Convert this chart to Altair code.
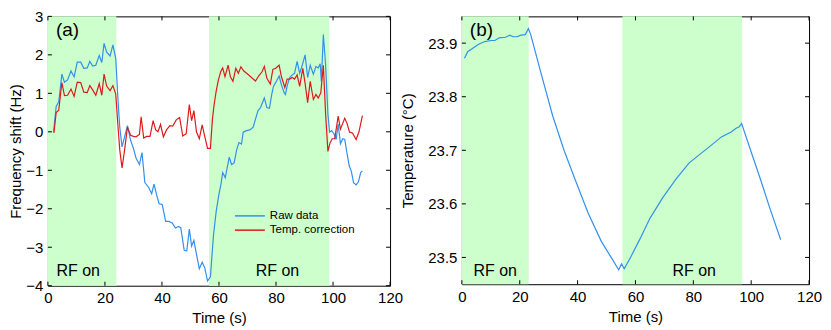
import altair as alt
import pandas as pd

FONT = "Liberation Sans"

# ---------------- data: panel (a) ----------------
t_raw = [2.0, 2.9, 3.8, 4.9, 5.8, 6.9, 8.1, 9.2, 10.3, 11.5, 12.6, 13.8, 14.7, 15.7, 16.8, 18.0,
         18.9, 19.7, 20.6, 21.8, 22.8, 23.8, 24.6, 25.2, 26.0, 26.9, 27.9, 29.0, 30.0, 30.9, 32.1,
         33.0, 34.0, 35.3, 36.4, 37.2, 38.2, 39.0, 40.1, 41.3, 42.4, 43.6, 44.7, 45.8, 46.6, 47.8,
         48.7, 49.6, 50.4, 51.2, 52.1, 53.1, 54.1, 55.0, 56.0, 57.0, 57.5, 58.1, 59.0, 59.9, 60.7,
         61.3, 62.2, 63.0, 63.6, 64.4, 65.3, 66.2, 67.0, 67.9, 68.5, 69.7, 70.8, 72.0, 72.8, 73.7,
         74.6, 75.9, 76.8, 77.7, 78.5, 79.1, 80.2, 81.1, 81.9, 82.9, 83.3, 84.0, 84.8, 85.7, 86.5,
         87.4, 88.3, 89.2, 90.2, 91.1, 92.0, 93.1, 94.0, 94.8, 95.5, 95.9, 96.6, 97.4, 98.2, 98.8,
         99.5, 100.3, 101.1, 101.8, 102.6, 103.4, 104.1, 104.9, 105.7, 106.4, 107.2, 108.1, 108.9,
         109.7, 110.3]
raw = [0.0, 0.66, 0.78, 1.5, 1.29, 1.35, 1.58, 1.43, 1.81, 1.81, 1.65, 1.66, 1.83, 1.71, 1.73, 1.98,
       1.8, 2.3, 2.07, 1.97, 2.26, 1.9, 0.8, 0.12, -0.39, -0.13, 0.16, -0.22, -0.43, -0.68, -0.85,
       -0.54, -1.32, -1.44, -1.61, -1.36, -1.66, -1.87, -1.89, -2.33, -2.33, -2.37, -2.5, -2.46, -2.49, -3.08,
       -3.09, -2.53, -2.97, -2.82, -3.18, -3.56, -3.39, -3.53, -3.88, -3.77, -3.26, -2.67, -2.08, -1.66, -1.36,
       -1.06, -1.19, -0.89, -0.66, -0.85, -0.81, -0.47, -0.28, -0.32, -0.01, 0.03, 0.05, 0.12, 0.33, 0.55,
       0.63, 0.88, 0.63, 0.61, 0.97, 1.18, 1.32, 1.45, 1.22, 1.01, 0.97, 1.22, 1.41, 1.48, 1.52,
       1.83, 1.52, 1.73, 2.0, 1.41, 1.73, 1.5, 1.7, 1.66, 1.77, 1.31, 2.53, 1.73, 0.46, -0.01,
       0.03, -0.05, -0.2, 0.2, -0.31, -0.18, -0.2, -0.56, -0.89, -1.02, -1.32, -1.38, -1.3,
       -1.06, -1.02]
t_corr = [2.1, 2.9, 3.8, 4.9, 5.8, 6.9, 8.1, 9.2, 10.3, 11.5, 12.6, 13.8, 14.7, 15.7, 16.8, 18.0,
          18.9, 19.7, 20.6, 21.8, 22.8, 23.8, 24.6, 25.2, 26.0, 26.9, 27.9, 29.0, 30.0, 30.9, 32.1,
          32.7, 33.6, 34.6, 35.8, 36.9, 37.8, 38.6, 39.5, 40.5, 41.6, 42.8, 43.8, 45.0, 46.2, 47.3,
          48.5, 49.6, 50.4, 51.2, 52.1, 53.1, 54.1, 55.0, 56.0, 57.0, 57.7, 58.3, 59.0, 59.8, 60.6,
          61.3, 62.1, 63.2, 64.0, 64.9, 65.9, 66.8, 67.7, 68.7, 69.7, 71.1, 72.8, 73.9, 75.1, 75.9,
          76.8, 78.0, 78.9, 79.9, 81.1, 81.9, 83.1, 83.9, 84.8, 85.7, 86.5, 87.4, 88.3, 89.4, 90.2,
          91.1, 92.0, 93.1, 94.0, 94.8, 95.7, 96.6, 97.4, 98.2, 98.9, 99.7, 100.6, 101.8, 102.6,
          104.1, 104.9, 105.8, 106.8, 108.1, 109.1, 110.3]
corr = [-0.03, 0.5, 0.56, 1.28, 0.94, 0.95, 1.11, 0.92, 1.29, 1.28, 1.03, 1.02, 1.2, 1.09, 0.95, 1.25,
        0.95, 1.5, 1.19, 1.07, 1.2, 0.98, 0.12, -0.47, -0.94, -0.47, 0.12, -0.09, -0.12, -0.13, -0.07,
        0.39, -0.16, -0.12, -0.12, 0.29, 0.05, 0.0, 0.19, -0.13, 0.05, 0.16, 0.15, 0.31, 0.37, -0.11,
        -0.05, 0.71, 0.29, 0.55, 0.0, -0.18, 0.18, -0.12, -0.43, -0.43, 0.33, 0.71, 1.05, 1.35, 1.56,
        1.66, 1.43, 1.73, 1.43, 1.31, 1.65, 1.52, 1.69, 1.58, 1.52, 1.43, 1.32, 1.45, 1.56, 1.7,
        1.39, 1.24, 1.62, 1.65, 1.73, 1.43, 1.15, 1.37, 1.37, 1.41, 1.37, 1.48, 1.18, 1.65, 1.26,
        0.76, 1.31, 0.84, 0.97, 0.88, 1.01, 1.73, 0.46, -0.51, -0.3, -0.18, -0.18, 0.41, 0.07,
        0.35, 0.22, -0.01, -0.03, -0.2, 0.0, 0.42]

# ---------------- data: panel (b) ----------------
t_temp = [0.9, 2.0, 3.9, 5.8, 7.9, 10.1, 11.4, 12.9, 15.1, 16.6, 17.7, 19.1, 20.4, 21.9, 23.0,
          23.8, 26.9, 31.4, 35.3, 39.3, 43.7, 48.2, 51.6, 54.2, 55.2, 56.1, 58.3, 61.7, 65.0,
          69.5, 74.0, 78.5, 81.9, 85.2, 89.7, 93.1, 94.8, 95.9, 96.7, 99.8, 103.2, 106.5, 110.2]
temp = [23.872, 23.884, 23.891, 23.898, 23.903, 23.905, 23.905, 23.910, 23.911, 23.915, 23.912,
        23.912, 23.915, 23.916, 23.927, 23.916, 23.853, 23.764, 23.700, 23.643, 23.582, 23.530,
        23.500, 23.477, 23.488, 23.479, 23.500, 23.536, 23.573, 23.612, 23.646, 23.676, 23.691,
        23.705, 23.725, 23.734, 23.741, 23.744, 23.750, 23.700, 23.646, 23.591, 23.533]

# RF-on intervals (s)
rf_a_start = [0, 56.5]
rf_a_end = [24.0, 98.7]
rf_b_start = [0, 55.5]
rf_b_end = [23.1, 96.8]

x_ticks = [0, 20, 40, 60, 80, 100, 120]
ya_ticks = [-4, -3, -2, -1, 0, 1, 2, 3]
yb_ticks = [23.5, 23.6, 23.7, 23.8, 23.9]

series_names = ["Raw data", "Temp. correction"]
series_colors = ["#3390ee", "#e01a1c"]
SHADE = "#ccffcc"

WA, HA = 343, 270
WB, HB = 348, 268.5
TL = 4  # tick length

XT = "Time (s)"
X_AXIS = alt.Axis(values=x_ticks, labelFlush=False)


def ticks_layers(xscale, yscale, y_axis, ytitle, yticks, w, h):
    xt = pd.DataFrame({"t": x_ticks})
    yt = pd.DataFrame({"v": yticks})
    xenc = alt.X("t:Q", scale=xscale, title=XT, axis=X_AXIS)
    yenc = alt.Y("v:Q", scale=yscale, title=ytitle, axis=y_axis)
    top = alt.Chart(xt).mark_rule(color="#000", strokeWidth=1).encode(x=xenc, y=alt.value(0), y2=alt.value(TL))
    bot = alt.Chart(xt).mark_rule(color="#000", strokeWidth=1).encode(x=xenc, y=alt.value(h - TL), y2=alt.value(h))
    left = alt.Chart(yt).mark_rule(color="#000", strokeWidth=1).encode(y=yenc, x=alt.value(0), x2=alt.value(TL))
    right = alt.Chart(yt).mark_rule(color="#000", strokeWidth=1).encode(y=yenc, x=alt.value(w - TL), x2=alt.value(w))
    return [top, bot, left, right]


def text_layer(s, x, y, size, xscale=None):
    df = pd.DataFrame({"s": [s], "t": [x]})
    xenc = alt.X("t:Q", scale=xscale, title=XT, axis=X_AXIS) if xscale is not None else alt.value(x)
    return alt.Chart(df).mark_text(align="left", baseline="alphabetic", font=FONT,
                                   fontSize=size, color="#000").encode(x=xenc, y=alt.value(y), text="s:N")


# ---------------- panel (a) ----------------
xs_a = alt.Scale(domain=[0, 120], nice=False, zero=False)
ys_a = alt.Scale(domain=[-4, 3], nice=False, zero=False)
ytitle_a = "Frequency shift (Hz)"
y_axis_a = alt.Axis(values=ya_ticks, titlePadding=2, labelPadding=5, labelFlush=False)

df_a = pd.concat([
    pd.DataFrame({"t": t_raw, "v": raw, "series": series_names[0], "o": range(len(t_raw))}),
    pd.DataFrame({"t": t_corr, "v": corr, "series": series_names[1], "o": range(len(t_corr))}),
])
rf_a = pd.DataFrame({"t": rf_a_start, "t2": rf_a_end})

shade_a = alt.Chart(rf_a).mark_rect(color=SHADE).encode(
    x=alt.X("t:Q", scale=xs_a, title=XT, axis=X_AXIS), x2="t2:Q")
lines_a = alt.Chart(df_a).mark_line(strokeWidth=1.2).encode(
    x=alt.X("t:Q", scale=xs_a, title=XT, axis=X_AXIS),
    y=alt.Y("v:Q", scale=ys_a, title=ytitle_a, axis=y_axis_a),
    order="o:Q",
    color=alt.Color("series:N", scale=alt.Scale(domain=series_names, range=series_colors), legend=None),
)

leg = []
for i, (nm, col) in enumerate(zip(series_names, series_colors)):
    yy = 200 + 14.3 * i
    leg.append(alt.Chart(pd.DataFrame({"s": [nm]})).mark_rule(color=col, strokeWidth=1.5).encode(
        x=alt.value(187.5), x2=alt.value(217.5), y=alt.value(yy)))
    leg.append(alt.Chart(pd.DataFrame({"s": [nm]})).mark_text(
        align="left", baseline="middle", font=FONT, fontSize=11.5, color="#000").encode(
        x=alt.value(222.5), y=alt.value(yy), text="s:N"))

panel_a = alt.layer(
    shade_a, lines_a,
    *ticks_layers(xs_a, ys_a, y_axis_a, ytitle_a, ya_ticks, WA, HA),
    text_layer("(a)", 8, 20, 19),
    text_layer("RF on", 3.0, 260, 16, xs_a),
    text_layer("RF on", 72.9, 260, 16, xs_a),
    *leg,
).properties(width=WA, height=HA)

# ---------------- panel (b) ----------------
xs_b = alt.Scale(domain=[0, 120], nice=False, zero=False)
ys_b = alt.Scale(domain=[23.45, 23.95], nice=False, zero=False)
ytitle_b = "Temperature (°C)"
y_axis_b = alt.Axis(values=yb_ticks, format=".1f", titlePadding=12, labelPadding=5, labelFlush=False)

df_b = pd.DataFrame({"t": t_temp, "v": temp, "o": range(len(t_temp))})
rf_b = pd.DataFrame({"t": rf_b_start, "t2": rf_b_end})

shade_b = alt.Chart(rf_b).mark_rect(color=SHADE).encode(
    x=alt.X("t:Q", scale=xs_b, title=XT, axis=X_AXIS), x2="t2:Q")
lines_b = alt.Chart(df_b).mark_line(strokeWidth=1.2, color=series_colors[0]).encode(
    x=alt.X("t:Q", scale=xs_b, title=XT, axis=X_AXIS),
    y=alt.Y("v:Q", scale=ys_b, title=ytitle_b, axis=y_axis_b),
    order="o:Q",
)

panel_b = alt.layer(
    shade_b, lines_b,
    *ticks_layers(xs_b, ys_b, y_axis_b, ytitle_b, yb_ticks, WB, HB),
    text_layer("(b)", 8, 20, 19),
    text_layer("RF on", 4.0, 260, 16, xs_b),
    text_layer("RF on", 72.8, 260, 16, xs_b),
).properties(width=WB, height=HB)

chart = alt.hconcat(panel_a, panel_b, spacing=72, bounds="flush").properties(
    padding={"left": 0, "top": 0, "right": 0, "bottom": 0}
).configure_view(stroke="#000", strokeWidth=1).configure_axis(
    labelFont=FONT, titleFont=FONT, labelFontSize=15, titleFontSize=15,
    titleFontWeight="normal", labelColor="#000", titleColor="#000",
    ticks=False, tickSize=0, domain=False, grid=False,
).configure_axisX(labelPadding=5, titlePadding=5)

chart.save("out.html", embed_options={"renderer": "svg", "actions": False})
